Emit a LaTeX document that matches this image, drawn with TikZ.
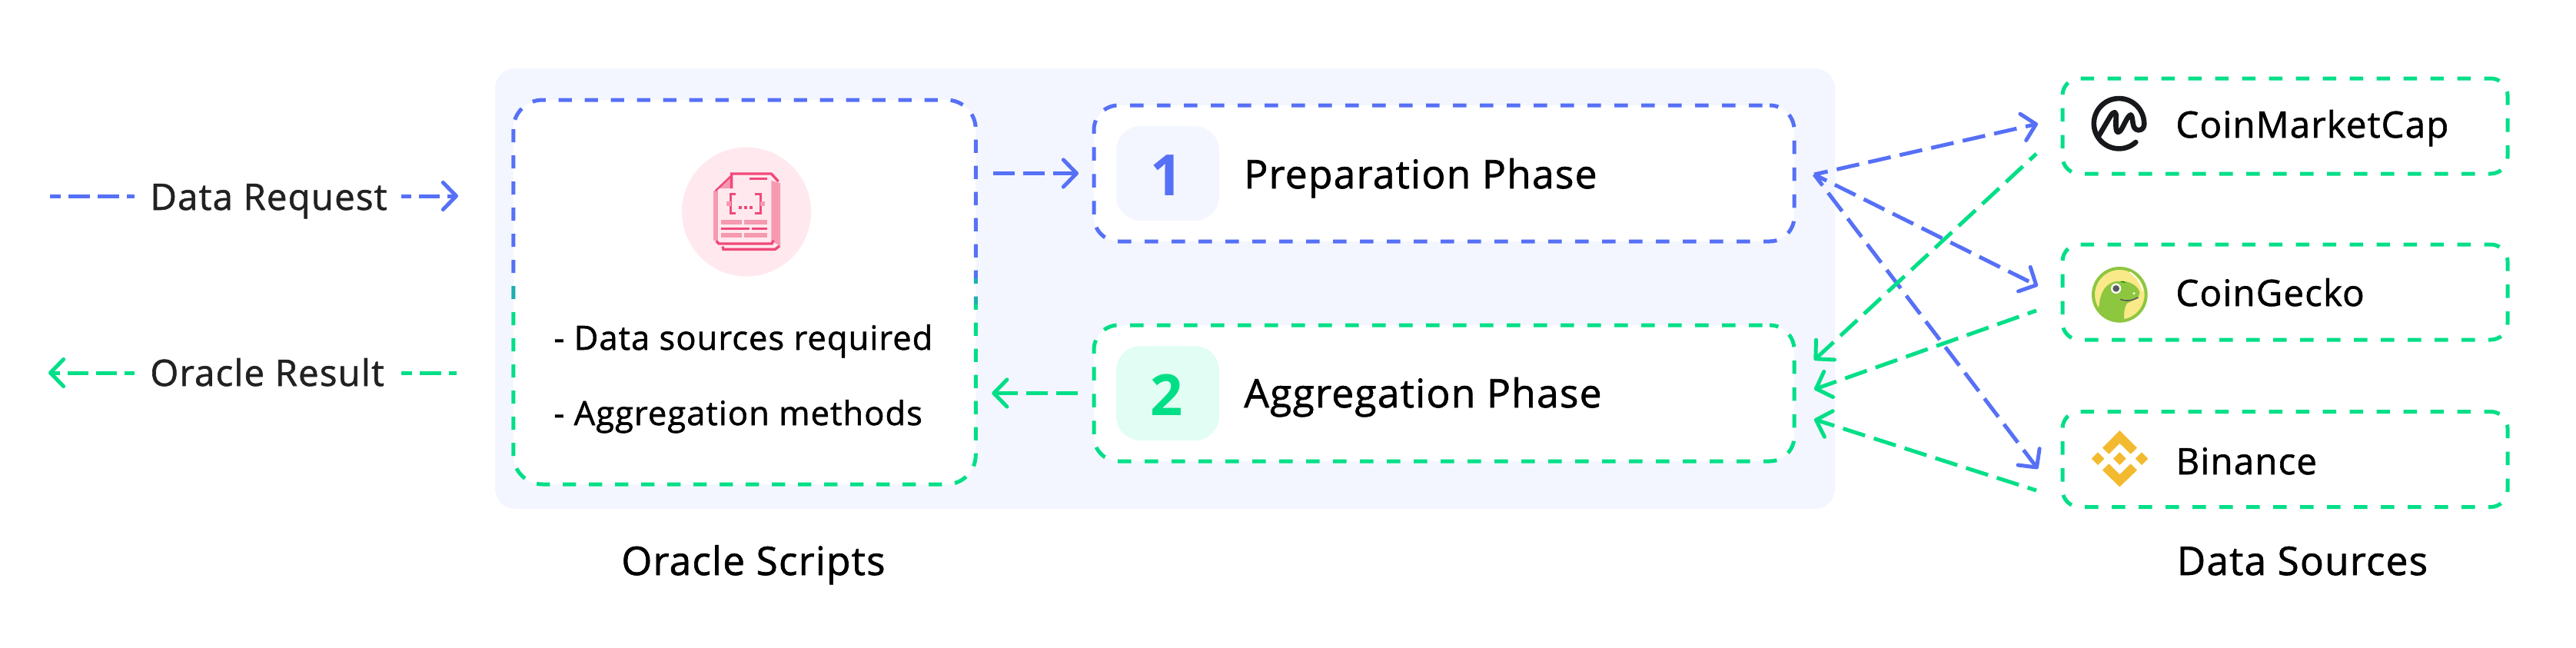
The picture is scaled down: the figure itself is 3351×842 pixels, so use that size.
\documentclass[tikz,border=0pt]{standalone}
\usepackage{fontspec}
\setmainfont{Open Sans}
\newfontfamily\semi{Open Sans}[FakeBold=1.3,LetterSpace=2.5]
\usetikzlibrary{arrows.meta,calc}
\definecolor{reqblue}{HTML}{5670F6}
\definecolor{resgreen}{HTML}{00DF87}
\definecolor{midteal}{HTML}{1CAFB0}
\definecolor{panel}{HTML}{F3F6FF}
\definecolor{mint}{HTML}{E2FDF3}
\definecolor{blush}{HTML}{FFE9EE}
\definecolor{rosedark}{HTML}{F0497A}
\definecolor{roselight}{HTML}{F59AB1}
\definecolor{inkdark}{HTML}{17181B}
\definecolor{gecko}{HTML}{8DC63F}
\definecolor{geckosun}{HTML}{F9E988}
\definecolor{geckogrey}{HTML}{58595B}
\definecolor{coin}{HTML}{F3BA2F}
\tikzset{
  barb/.tip={Straight Barb[length=8.6pt,width=17.6pt,round]},
  flow/.style={line width=2.5pt,dash pattern=on 14pt off 5.5pt,-barb},
  longflow/.style={line width=2.5pt,dash pattern=on 15pt off 6pt,-barb},
  plainflow/.style={line width=2.5pt,dash pattern=on 14pt off 5pt},
  dashbox/.style={line width=2.5pt,dash pattern=on 8.75pt off 8.75pt,dash phase=12.75pt,fill=white,
    inner sep=0pt,outer sep=0pt,rounded corners=16pt},
  sourcebox/.style={dashbox,draw=resgreen,rounded corners=11pt,dash phase=4.5pt,
    minimum width=289.5pt,minimum height=62pt},
  badge/.style={rounded corners=16pt,inner sep=0pt,outer sep=0pt,
    minimum width=67pt,minimum height=61.5pt},
  num/.style={inner sep=0pt,anchor=base,font=\fontsize{37}{37}\selectfont\bfseries},
  caption/.style={inner sep=0pt,anchor=base west,text=black,font=\fontsize{25.7}{26}\semi},
  legendtext/.style={inner sep=0pt,anchor=base west,text=black!87,font=\fontsize{23.7}{24}\semi},
  sourcetext/.style={inner sep=0pt,anchor=base west,text=black,font=\fontsize{23.7}{24}\semi},
  bodytext/.style={inner sep=0pt,anchor=base west,text=black,font=\fontsize{21.7}{22}\semi},
  heading/.style={inner sep=0pt,anchor=base,text=black,font=\fontsize{25.6}{26}\semi},
}
\begin{document}
\begin{tikzpicture}[x=0.5pt,y=-0.5pt]
\useasboundingbox (0,0) rectangle (3351,842);

% panel behind the oracle script
\node[fill=panel,rounded corners=13pt,inner sep=0pt,outer sep=0pt,
  minimum width=871.5pt,minimum height=286.5pt] (panel) at (1515.5,375.5) {};

% oracle script box: blue on top, green below
\node[fill=white,rounded corners=19pt,inner sep=0pt,outer sep=0pt,
  minimum width=300.75pt,minimum height=250pt] (scripts) at (968.5,380) {};
\begin{scope}
  \clip (600,100) rectangle (1300,362);
  \draw[reqblue,line width=2.5pt,dash pattern=on 8.6pt off 8.4pt,rounded corners=19pt]
    (scripts.north west) rectangle (scripts.south east);
\end{scope}
\begin{scope}
  \clip (600,362) rectangle (1300,396);
  \draw[midteal,line width=2.5pt,dash pattern=on 8.6pt off 8.4pt,rounded corners=19pt]
    (scripts.north west) rectangle (scripts.south east);
\end{scope}
\begin{scope}
  \clip (600,396) rectangle (1300,700);
  \draw[resgreen,line width=2.5pt,dash pattern=on 8.6pt off 8.4pt,rounded corners=19pt]
    (scripts.north west) rectangle (scripts.south east);
\end{scope}

% script document icon
\fill[blush] (971,275.6) circle[radius=84];
\begin{scope}[shift={(860,180)},scale=1/3]
  \fill[roselight] (430,165) -- (465,175) -- (465,420) -- (430,400) -- cycle;
  \fill[roselight] (205,205) -- (222,205) -- (222,400) -- (205,400) -- cycle;
  \fill[roselight] (275,145) -- (275,195) -- (218,195) -- cycle;
  \draw[rosedark,line width=1.7pt] (275,195) -- (275,138) -- (430,138) -- (458,168);
  \draw[rosedark,line width=1.2pt] (275,145) -- (212,205);
  \draw[rosedark,line width=1.7pt] (215,400) -- (225,411) -- (432,411) -- (438,398);
  \draw[rosedark,line width=1.7pt] (240,422) -- (243,433) -- (445,433) -- (462,420);
  \draw[rosedark,line width=1.5pt] (345,158) -- (415,158);
  \draw[rosedark,line width=1.5pt] (290,218) -- (272,218) -- (272,292) -- (290,292);
  \draw[rosedark,line width=1.5pt] (365,218) -- (388,218) -- (388,292) -- (365,292);
  \fill[roselight] (254,245) rectangle (272,265);
  \fill[roselight] (388,245) rectangle (406,265);
  \fill[rosedark] (304,265) rectangle (316,275);
  \fill[rosedark] (324,265) rectangle (336,275);
  \fill[rosedark] (344,265) rectangle (356,275);
  \fill[roselight] (235,318) rectangle (315,336);
  \fill[roselight] (325,318) rectangle (415,336);
  \fill[roselight] (235,368) rectangle (315,386);
  \fill[roselight] (325,368) rectangle (415,386);
  \fill[rosedark] (235,348) rectangle (345,357);
  \fill[rosedark] (355,348) rectangle (415,357);
\end{scope}

\node[bodytext] (reqsources) at (720,455) {- Data sources required};
\node[bodytext] (reqmethods) at (720,553) {- Aggregation methods};

% the two phases
\node[dashbox,draw=reqblue,minimum width=455.5pt,minimum height=88.5pt] (prep) at (1878.5,225.5) {};
\node[dashbox,draw=resgreen,minimum width=455.5pt,minimum height=88.5pt] (agg) at (1878.5,511.5) {};
\node[badge,fill=panel] (badgeone) at (1519,225.5) {};
\node[badge,fill=mint] (badgetwo) at (1519,511.5) {};
\node[num,text=reqblue] (numone) at (1518,254) {1};
\node[num,text=resgreen] (numtwo) at (1518,540) {2};
\node[caption] (preptext) at (1618,245) {Preparation Phase};
\node[caption] (aggtext) at (1618,530) {Aggregation Phase};

% data source boxes
\node[sourcebox] (cmc) at (2972.5,164) {};
\node[sourcebox] (cg) at (2972.5,380) {};
\node[sourcebox] (bin) at (2972.5,597.5) {};
\node[sourcetext] (cmctext) at (2830,179) {CoinMarketCap};
\node[sourcetext] (cgtext) at (2830,398) {CoinGecko};
\node[sourcetext] (bintext) at (2830,617) {Binance};

% CoinMarketCap logo
\begin{scope}[shift={(2700,110)},scale=1/3]
  \draw[inkdark,line width=3.3pt,line cap=round,line join=round]
    (235,225) arc[start angle=48,end angle=360,radius=98];
  \draw[inkdark,line width=3.3pt,line cap=round,line join=round]
    (92,198) -- (135,125) .. controls (150,100) and (160,105) .. (158,130)
    .. controls (155,180) and (160,195) .. (175,180)
    .. controls (190,160) and (200,125) .. (215,118)
    .. controls (228,125) and (215,175) .. (245,178)
    .. controls (262,178) and (268,165) .. (268,152);
\end{scope}

% CoinGecko logo
\begin{scope}[shift={(2700,330)},scale=1/3]
  \draw[gecko,fill=geckosun,line width=2pt] (172,160) circle[radius=103];
  \fill[gecko] (90,215) .. controls (95,165) and (105,125) .. (150,110)
    .. controls (190,100) and (240,115) .. (250,150)
    .. controls (252,175) and (215,185) .. (200,195)
    .. controls (188,215) and (188,240) .. (190,262)
    .. controls (150,265) and (110,245) .. (90,215) -- cycle;
  \fill[white] (158,136) circle[radius=20];
  \fill[geckogrey] (158,136) circle[radius=13];
  \fill[white] (228,155) circle[radius=5];
  \draw[geckogrey,line width=0.8pt] (175,178) .. controls (200,188) and (225,182) .. (245,170);
  \fill[green!50!black] (175,110) .. controls (185,105) and (192,108) .. (196,114) -- cycle;
  \draw[white,line width=0.8pt] (212,72) .. controls (240,90) and (255,115) .. (262,145);
\end{scope}

% Binance logo
\begin{scope}[shift={(2700,550)},scale=1/3]
  \fill[coin] (172,115) -- (197,140) -- (172,165) -- (147,140) -- cycle;
  \fill[coin] (87,115) -- (112,140) -- (87,165) -- (62,140) -- cycle;
  \fill[coin] (258,115) -- (283,140) -- (258,165) -- (233,140) -- cycle;
  \fill[coin] (172,30) -- (240,98) -- (215,122) -- (172,80) -- (130,122) -- (105,98) -- cycle;
  \fill[coin] (172,250) -- (105,185) -- (130,160) -- (172,202) -- (215,160) -- (240,185) -- cycle;
\end{scope}

% links between script and phases
\draw[flow,reqblue,shorten <=11.5pt,shorten >=10pt] (scripts.east |- prep) -- (prep.west);
\draw[flow,resgreen,shorten <=10.5pt,shorten >=10.5pt] (agg.west) -- (scripts.east |- agg);

% fan of requests and results
\coordinate (hub) at ($(prep.east)+(26,1.5)$);
\coordinate (cmcin) at ($(cmc.west)+(-32,-3)$);
\coordinate (cgin) at ($(cg.west)+(-32,-8)$);
\coordinate (binin) at ($(bin.west)+(-32,12.5)$);
\coordinate (cmcout) at ($(cmc.west)+(-34,36)$);
\coordinate (cgout) at ($(cg.west)+(-34,24)$);
\coordinate (binout) at ($(bin.west)+(-34,40.5)$);
\coordinate (aggina) at ($(agg.east)+(26,-43)$);
\coordinate (agginb) at ($(agg.east)+(26,-5)$);
\coordinate (agginc) at ($(agg.east)+(26,34)$);
\draw[longflow,reqblue,dash phase=6pt] (hub) -- (cmcin);
\draw[longflow,reqblue,dash phase=6pt] (hub) -- (cgin);
\draw[longflow,reqblue,dash phase=6pt] (hub) -- (binin);
\draw[longflow,resgreen,dash phase=9pt] (cmcout) -- (aggina);
\draw[longflow,resgreen,dash phase=9pt] (cgout) -- (agginb);
\draw[longflow,resgreen,dash phase=9pt] (binout) -- (agginc);

% legend
\node[legendtext] (legreq) at (195,273) {Data Request};
\node[legendtext] (legres) at (195,502) {Oracle Result};
\coordinate (reqa) at (65,255);
\coordinate (reqb) at (175,255);
\coordinate (reqc) at (522,255);
\coordinate (reqd) at (596,255);
\coordinate (resa) at (175,485);
\coordinate (resb) at (63,485);
\coordinate (resc) at (522,485);
\coordinate (resd) at (594,485);
\draw[plainflow,reqblue,dash phase=7pt] (reqa) -- (reqb);
\draw[flow,reqblue,dash pattern=on 13.5pt off 5pt,dash phase=7pt] (reqc) -- (reqd);
\draw[flow,resgreen,dash pattern=on 13.5pt off 5pt,dash phase=7pt] (resa) -- (resb);
\draw[plainflow,resgreen,dash phase=7pt] (resc) -- (resd);

% group captions
\node[heading] (scriptcap) at (980,748) {Oracle Scripts};
\node[heading] (sourcecap) at (2995,748) {Data Sources};
\end{tikzpicture}
\end{document}
